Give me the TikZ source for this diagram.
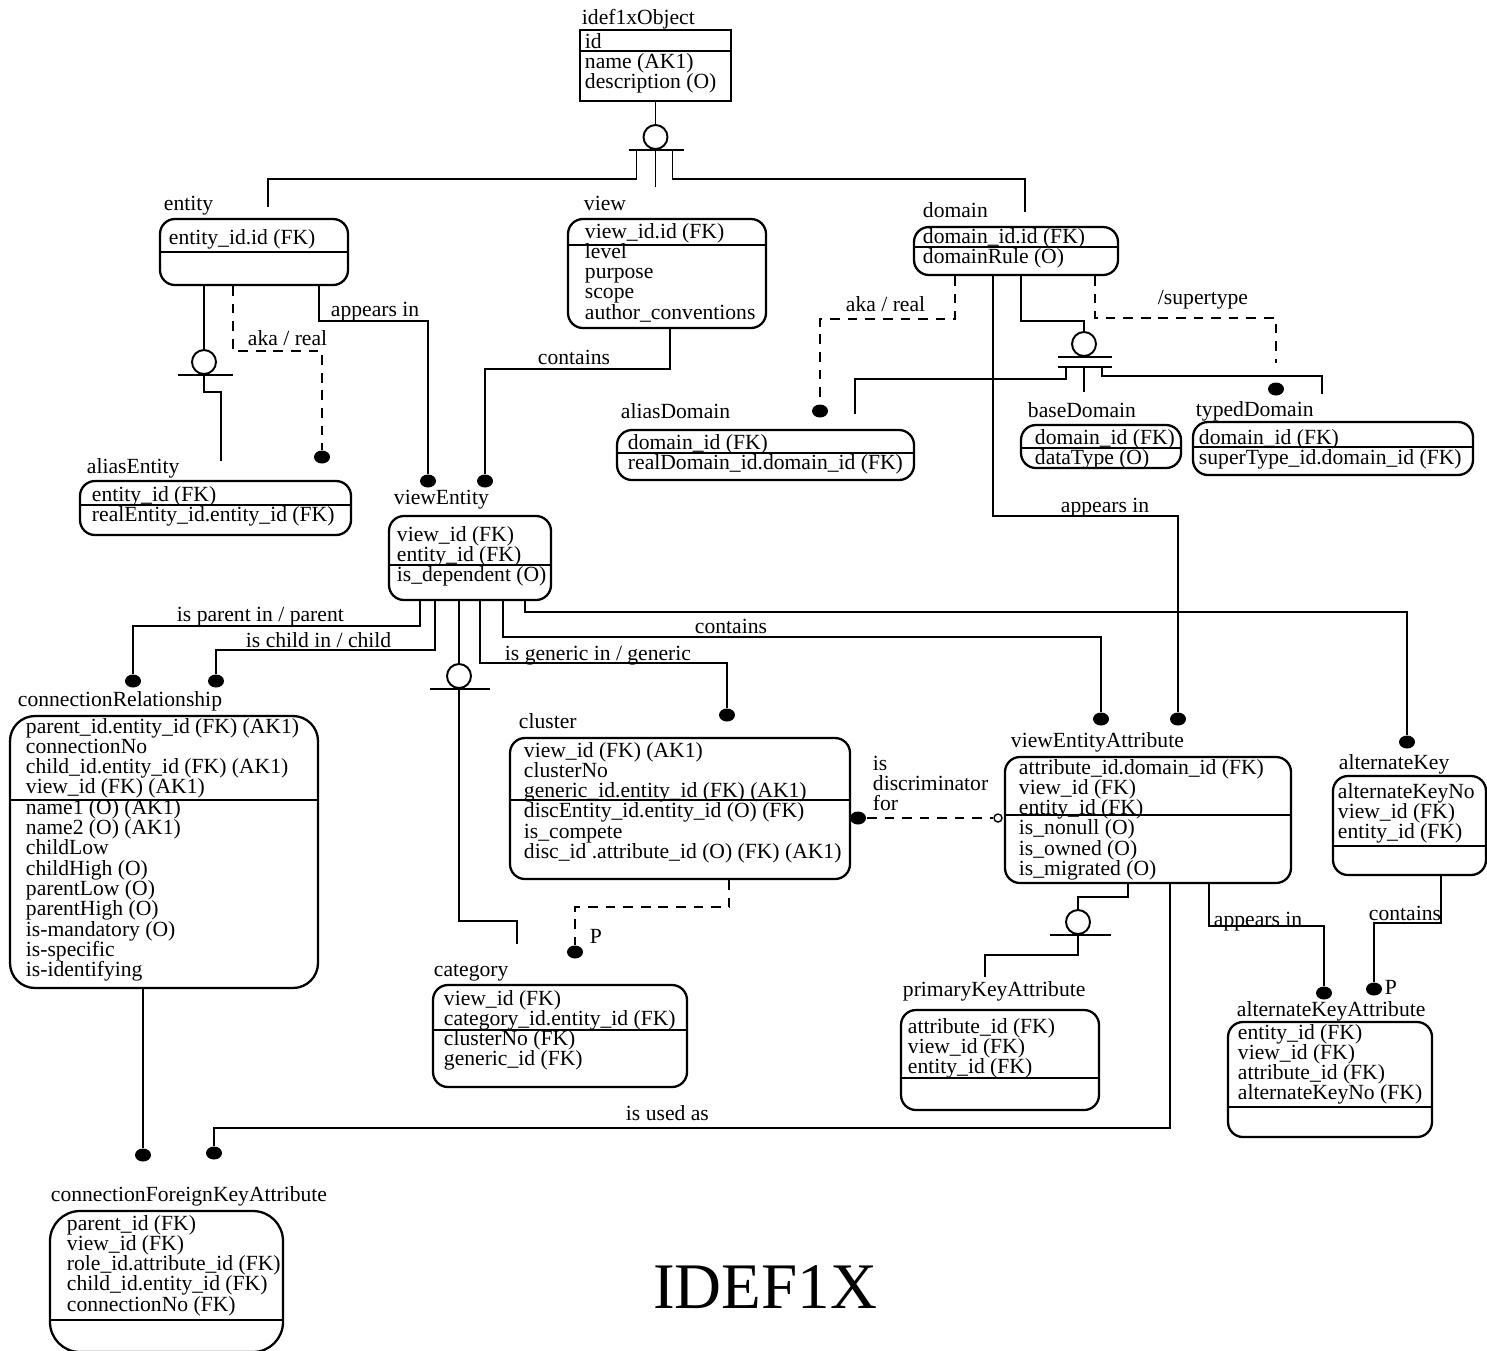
\documentclass[tikz,border=0pt]{standalone}
\usepackage{fontspec}
\setmainfont{Liberation Serif}
\usetikzlibrary{positioning,fit,shapes.geometric}

% attribute lines of a box, one node per line
\newcommand{\attrlines}[4]{%
  \foreach \attrtxt [count=\k from 0] in {#4}
    \node[attr] (#1-\k) at (#2,{#3+20.3*\k}) {\attrtxt};}

\begin{document}
\begin{tikzpicture}[
    x=0.02cm, y=-0.02cm, line width=1.1pt,
    every node/.style={font=\fontsize{12.3}{11.55}\selectfont},
    ebox/.style={draw, rounded corners=0.3cm, inner sep=0pt, line width=1.3pt},
    plainbox/.style={draw, inner sep=0pt, line width=1.3pt},
    ttl/.style={anchor=base west, inner sep=0pt},
    attr/.style={anchor=base west, inner sep=0pt},
    lbl/.style={anchor=base west, inner sep=0pt},
    blob/.style={ellipse, fill, inner sep=0pt, minimum width=0.32cm, minimum height=0.26cm},
    catsym/.style={circle, draw, inner sep=0pt, minimum size=0.48cm},
    ring/.style={circle, draw, fill=white, inner sep=0pt, minimum size=0.16cm, line width=0.8pt},
    gap/.style={shorten >=#1},
    rel/.style={dash pattern=on 5.5pt off 4.5pt}
]
    \useasboundingbox (0,0) rectangle (1487,1350);

    % Boxes
    \node[plainbox, fit={(580,30) (731,101)}] (idef) {};
    \node[ttl] at (581,24) {idef1xObject};
    \draw (idef.west |- 0,51) -- (idef.east |- 0,51);
    \attrlines{idef}{584}{48}{id, name (AK1), description (O)}

    \node[ebox, fit={(160,219) (348,285)}] (entity) {};
    \node[ttl] at (163,210) {entity};
    \draw (entity.west |- 0,252) -- (entity.east |- 0,252);
    \attrlines{entity}{168}{244}{entity\_id.id (FK)}

    \node[ebox, fit={(568,219) (766,328)}] (view) {};
    \node[ttl] at (583,210) {view};
    \draw (view.west |- 0,245) -- (view.east |- 0,245);
    \attrlines{view}{584}{238}{view\_id.id (FK), level, purpose, scope, author\_conventions}

    \node[ebox, fit={(914,227) (1118,275)}] (domain) {};
    \node[ttl] at (922,217) {domain};
    \draw (domain.west |- 0,247) -- (domain.east |- 0,247);
    \attrlines{domain}{922}{243}{domain\_id.id (FK), domainRule (O)}

    \node[ebox, fit={(80,481) (351,535)}] (aliasEntity) {};
    \node[ttl] at (86,473) {aliasEntity};
    \draw (aliasEntity.west |- 0,505) -- (aliasEntity.east |- 0,505);
    \attrlines{aliasEntity}{91}{501}{entity\_id (FK), realEntity\_id.entity\_id (FK)}

    \node[ebox, fit={(389,516) (551,600)}] (viewEntity) {};
    \node[ttl] at (393,504) {viewEntity};
    \draw (viewEntity.west |- 0,565) -- (viewEntity.east |- 0,565);
    \attrlines{viewEntity}{396}{541}{view\_id (FK), entity\_id (FK), is\_dependent (O)}

    \node[ebox, fit={(617,430) (914,480)}] (aliasDomain) {};
    \node[ttl] at (620,418) {aliasDomain};
    \draw (aliasDomain.west |- 0,453) -- (aliasDomain.east |- 0,453);
    \attrlines{aliasDomain}{627}{449}{domain\_id (FK), realDomain\_id.domain\_id (FK)}

    \node[ebox, fit={(1021,425) (1181,468)}] (baseDomain) {};
    \node[ttl] at (1027,417) {baseDomain};
    \draw (baseDomain.west |- 0,448) -- (baseDomain.east |- 0,448);
    \attrlines{baseDomain}{1034}{444}{domain\_id (FK), dataType (O)}

    \node[ebox, fit={(1193,422) (1473,475)}] (typedDomain) {};
    \node[ttl] at (1195,416) {typedDomain};
    \draw (typedDomain.west |- 0,447) -- (typedDomain.east |- 0,447);
    \attrlines{typedDomain}{1198}{444}{domain\_id (FK), superType\_id.domain\_id (FK)}

    \node[ebox, rounded corners=0.5cm, fit={(10,716) (318,988)}] (connRel) {};
    \node[ttl] at (17,706) {connectionRelationship};
    \draw (connRel.west |- 0,800) -- (connRel.east |- 0,800);
    \attrlines{connRel}{25}{733}{parent\_id.entity\_id (FK) (AK1), connectionNo,
      child\_id.entity\_id (FK) (AK1), view\_id (FK) (AK1), name1 (O) (AK1),
      name2 (O) (AK1), childLow, childHigh (O), parentLow (O), parentHigh (O),
      is-mandatory (O), is-specific, is-identifying}

    \node[ebox, fit={(510,738) (850,879)}] (cluster) {};
    \node[ttl] at (518,728) {cluster};
    \draw (cluster.west |- 0,800) -- (cluster.east |- 0,800);
    \attrlines{cluster}{523}{757}{view\_id (FK) (AK1), clusterNo,
      generic\_id.entity\_id (FK) (AK1), discEntity\_id.entity\_id (O) (FK),
      is\_compete, disc\_id .attribute\_id (O) (FK) (AK1)}

    \node[ebox, fit={(1005,757) (1291,883)}] (vea) {};
    \node[ttl] at (1010,747) {viewEntityAttribute};
    \draw (vea.west |- 0,815) -- (vea.east |- 0,815);
    \attrlines{vea}{1018}{774}{attribute\_id.domain\_id (FK), view\_id (FK),
      entity\_id (FK), is\_nonull (O), is\_owned (O), is\_migrated (O)}

    \node[ebox, fit={(1333,776) (1486,875)}] (altKey) {};
    \node[ttl] at (1338,769) {alternateKey};
    \draw (altKey.west |- 0,846) -- (altKey.east |- 0,846);
    \attrlines{altKey}{1337}{798}{alternateKeyNo, view\_id (FK), entity\_id (FK)}

    \node[ebox, fit={(433,985) (687,1087)}] (category) {};
    \node[ttl] at (433,976) {category};
    \draw (category.west |- 0,1030) -- (category.east |- 0,1030);
    \attrlines{category}{443}{1005}{view\_id (FK), category\_id.entity\_id (FK),
      clusterNo (FK), generic\_id (FK)}

    \node[ebox, fit={(901,1010) (1099,1110)}] (pkAttr) {};
    \node[ttl] at (902,996) {primaryKeyAttribute};
    \draw (pkAttr.west |- 0,1078) -- (pkAttr.east |- 0,1078);
    \attrlines{pkAttr}{907}{1033}{attribute\_id (FK), view\_id (FK), entity\_id (FK)}

    \node[ebox, fit={(1228,1022) (1432,1137)}] (akAttr) {};
    \node[ttl] at (1236,1016) {alternateKeyAttribute};
    \draw (akAttr.west |- 0,1107) -- (akAttr.east |- 0,1107);
    \attrlines{akAttr}{1237}{1039}{entity\_id (FK), view\_id (FK), attribute\_id (FK),
      alternateKeyNo (FK)}

    \node[ebox, rounded corners=0.6cm, fit={(50,1211) (283,1352)}] (cfkAttr) {};
    \node[ttl] at (50,1201) {connectionForeignKeyAttribute};
    \draw (cfkAttr.west |- 0,1320) -- (cfkAttr.east |- 0,1320);
    \attrlines{cfkAttr}{66}{1230}{parent\_id (FK), view\_id (FK), role\_id.attribute\_id (FK),
      child\_id.entity\_id (FK), connectionNo (FK)}

    % Category symbols
    \node[catsym] (objCat) at (655.5,137) {};
    \node[catsym] (entCat) at (204,362) {};
    \node[catsym] (domCat) at (1084,344) {};
    \node[catsym] (veCat) at (459,676) {};
    \node[catsym] (veaCat) at (1078,922) {};

    % Relationship ends
    \node[blob] (dAliasE) at (322,457) {};
    \node[blob] (dVE1) at (428,481) {};
    \node[blob] (dVE2) at (485,481) {};
    \node[blob] (dAliasD) at (820,411) {};
    \node[blob] (dTyped) at (1276,389) {};
    \node[blob] (dCR1) at (133,681) {};
    \node[blob] (dCR2) at (216,681) {};
    \node[blob] (dCluster) at (727,715) {};
    \node[blob] (dVEA1) at (1101,719) {};
    \node[blob] (dVEA2) at (1178,719) {};
    \node[blob] (dAK) at (1407,742) {};
    \node[blob] (dCat) at (575,952) {};
    \node[blob] (dDisc) at (858,818) {};
    \node[ring] (oDisc) at (998,818) {};
    \node[blob] (dAKA1) at (1324,993) {};
    \node[blob] (dAKA2) at (1374,989) {};
    \node[blob] (dCF1) at (143,1155) {};
    \node[blob] (dCF2) at (214,1153) {};

    % idef1xObject subtypes
    \draw (idef) -- (objCat);
    \draw (objCat.south) +(-27,0) -- +(28,0);
    \draw[gap=0.22cm] (objCat.south) ++(-19,0) -- ++(0,29) -| (entity.north -| 268,0);
    \draw[gap=0.62cm] (objCat.south) -- (view.north -| objCat.south);
    \draw[gap=0.28cm] (objCat.south) ++(17,0) -- ++(0,29) -| (domain.north -| 1025,0);

    % entity
    \draw (entity.south -| entCat) -- (entCat);
    \draw (entCat.south) +(-26,0) -- +(29,0);
    \draw[gap=0.38cm] (entCat.south) -- ++(0,17) -| (aliasEntity.north -| 221,0);
    \draw[rel] (entity.south -| 233,0) -- ++(0,65) -| (dAliasE);
    \draw (entity.south -| 319,0) -- ++(0,35) -| (dVE1);
    \draw (view.south -| 670,0) -- ++(0,40) -| (dVE2);

    % domain
    \draw[rel] (domain.south -| 955,0) -- ++(0,43) -| (dAliasD);
    \draw (domain.south -| 1021,0) -- ++(0,45) -| (domCat);
    \draw (domCat.south) +(-26,0) -- +(28,0);
    \draw (domCat.south) ++(0,10) +(-26,0) -- +(28,0);
    \draw[gap=0.3cm] (domCat.south) ++(-18,10) -- ++(0,12) -| (aliasDomain.north -| 855,0);
    \draw[gap=0.64cm] (domCat.south) ++(0,10) -- (baseDomain.north -| domCat);
    \draw[gap=0.54cm] (domCat.south) ++(18,10) -- ++(0,9) -| (typedDomain.north -| 1322,0);
    \draw[rel, gap=0.38cm] (domain.south -| 1095,0) -- ++(0,42) -| (dTyped);
    \draw (domain.south -| 993,0) -- ++(0,240) -| (dVEA2);

    % viewEntity
    \draw (viewEntity.south -| 420,0) -- ++(0,25) -| (dCR1);
    \draw (viewEntity.south -| 435,0) -- ++(0,49) -| (dCR2);
    \draw (viewEntity.south -| veCat) -- (veCat);
    \draw (veCat.south) +(-29,0) -- +(31,0);
    \draw[gap=0.8cm] (veCat.south) -- ++(0,232) -| (category.north -| 517,0);
    \draw (viewEntity.south -| 480,0) -- ++(0,62) -| (dCluster);
    \draw (viewEntity.south -| 503,0) -- ++(0,36) -| (dVEA1);
    \draw (viewEntity.south -| 525,0) -- ++(0,11) -| (dAK);

    % cluster
    \draw[rel] (cluster.south -| 729,0) -- ++(0,27) -| (dCat);
    \draw[rel] (dDisc) -- (oDisc);

    % viewEntityAttribute
    \draw (vea.south -| 1128,0) -- ++(0,13) -| (veaCat);
    \draw (veaCat.south) +(-28,0) -- +(33,0);
    \draw[gap=0.64cm] (veaCat.south) -- ++(0,20) -| (pkAttr.north -| 985,0);
    \draw (vea.south -| 1170,0) -- ++(0,244) -| (dCF2);
    \draw (vea.south -| 1209,0) -- ++(0,42) -| (dAKA1);
    \draw (altKey.south -| 1441,0) -- ++(0,47) -| (dAKA2);
    \draw (connRel.south -| 143,0) -- (dCF1);

    % Annotations
    \node[lbl] at (330,316) {appears in};
    \node[lbl] at (247,345) {aka / real};
    \node[lbl] at (537,364) {contains};
    \node[lbl] at (845,311) {aka / real};
    \node[lbl] at (1157,304) {/supertype};
    \node[lbl] at (1060,512) {appears in};
    \node[lbl] at (176,621) {is parent in / parent};
    \node[lbl] at (245,647) {is child in / child};
    \node[lbl] at (694,633) {contains};
    \node[lbl] at (504,660) {is generic in / generic};
    \attrlines{disc}{872}{770}{is, discriminator, for}
    \node[lbl] at (589,943) {P};
    \node[lbl] at (1213,926) {appears in};
    \node[lbl] at (1368,920) {contains};
    \node[lbl] at (1384,994) {P};
    \node[lbl] at (625,1120) {is used as};
    \node[font=\fontsize{37}{40}\selectfont] (caption) at (765,1287) {IDEF1X};
\end{tikzpicture}
\end{document}
